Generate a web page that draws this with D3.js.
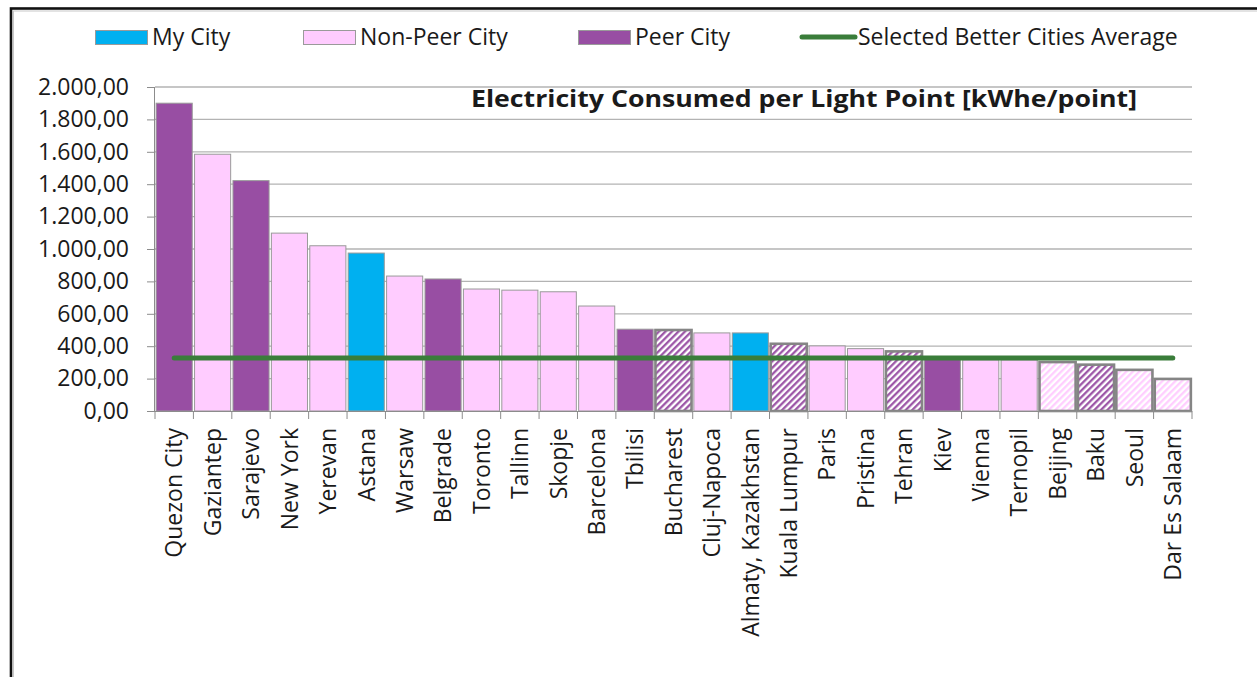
<!DOCTYPE html>
<head>
<meta charset="utf-8">
<style>
body { margin: 0; background: #fff; }
text { font-family: "Open Sans", sans-serif; fill: #1a1a1a; }
.axis path, .axis line { stroke: #8c8c8c; }
.grid line { stroke: #b3b3b3; stroke-width: 1.3px; }
</style>
</head>
<body>
<script src="https://d3js.org/d3.v7.min.js"></script>
<script>
var cities = ["Quezon City", "Gaziantep", "Sarajevo", "New York", "Yerevan", "Astana", "Warsaw",
  "Belgrade", "Toronto", "Tallinn", "Skopje", "Barcelona", "Tbilisi", "Bucharest", "Cluj-Napoca",
  "Almaty, Kazakhstan", "Kuala Lumpur", "Paris", "Pristina", "Tehran", "Kiev", "Vienna", "Ternopil",
  "Beijing", "Baku", "Seoul", "Dar Es Salaam"];
var values = [1900, 1585, 1422, 1098, 1020, 975, 833, 815, 753, 746, 736, 648, 505, 500, 482,
  482, 415, 402, 385, 368, 332, 316, 316, 302, 286, 254, 198];
// M = my city, N = non-peer, P = peer, PH / NH = hatched peer / non-peer
var kinds = ["P", "N", "P", "N", "N", "M", "N", "P", "N", "N", "N", "N", "P", "PH", "N",
  "M", "PH", "N", "N", "PH", "P", "N", "N", "NH", "PH", "NH", "NH"];
var betterAverage = 327;
var yTicks = [0, 200, 400, 600, 800, 1000, 1200, 1400, 1600, 1800, 2000];
var legendItems = ["My City", "Non-Peer City", "Peer City", "Selected Better Cities Average"];

var W = 1257, H = 677;
var plotL = 155, plotR = 1192, plotT = 87, plotB = 411;

var svg = d3.select("body").append("svg")
  .attr("width", W)
  .attr("height", H);

var defs = svg.append("defs");
function hatch(id, color) {
  var p = defs.append("pattern")
    .attr("id", id)
    .attr("patternUnits", "userSpaceOnUse")
    .attr("width", 4.6).attr("height", 4.6)
    .attr("patternTransform", "rotate(45)");
  p.append("rect").attr("width", 4.6).attr("height", 4.6).attr("fill", "#fff");
  p.append("line").attr("x1", 1.2).attr("y1", 0).attr("x2", 1.2).attr("y2", 4.6)
    .attr("stroke", color).attr("stroke-width", 2.2);
}
hatch("hatchPeer", "#984ea3");
hatch("hatchNon", "#ffccff");

var fills = { M: "#00b0f0", N: "#ffccff", P: "#984ea3", PH: "url(#hatchPeer)", NH: "url(#hatchNon)" };

// frame
svg.append("rect")
  .attr("x", 11).attr("y", 8.5)
  .attr("width", W + 20).attr("height", H + 20)
  .attr("fill", "none").attr("stroke", "#111").attr("stroke-width", 2.6);
svg.append("rect")
  .attr("x", 13.5).attr("y", 11)
  .attr("width", W + 20).attr("height", H + 20)
  .attr("fill", "none").attr("stroke", "#c8c8c8").attr("stroke-width", 1);

var x = d3.scaleBand()
  .domain(cities)
  .range([plotL, plotR])
  .paddingInner(0.06)
  .paddingOuter(0.03);

var y = d3.scaleLinear()
  .domain([0, 2000])
  .range([plotB, plotT]);

// grid
svg.append("g").attr("class", "grid")
  .selectAll("line")
  .data(yTicks.slice(1))
  .enter().append("line")
  .attr("x1", plotL).attr("x2", plotR)
  .attr("y1", function(d) { return y(d); })
  .attr("y2", function(d) { return y(d); });

var fmt = function(d) {
  var s = d3.format(",.2f")(d);
  return s.replace(/,/g, "#").replace(".", ",").replace(/#/g, ".");
};

var yAxis = svg.append("g")
  .attr("class", "axis")
  .attr("transform", "translate(" + plotL + ",0)")
  .call(d3.axisLeft(y).tickValues(yTicks).tickSize(8).tickPadding(18).tickFormat(fmt));
yAxis.selectAll("text").style("font-size", "23px").attr("fill", "#1a1a1a");
yAxis.select(".domain").attr("d", "M-0.5," + plotB + "V" + plotT);

// bars
svg.append("g")
  .selectAll("rect")
  .data(cities)
  .enter().append("rect")
  .attr("x", function(d) { return x(d); })
  .attr("y", function(d, i) { return y(values[i]); })
  .attr("width", x.bandwidth())
  .attr("height", function(d, i) { return plotB - y(values[i]); })
  .attr("fill", function(d, i) { return fills[kinds[i]]; })
  .attr("stroke", function(d, i) { return kinds[i].length > 1 ? "#858585" : "#9a9a9a"; })
  .attr("stroke-width", function(d, i) { return kinds[i].length > 1 ? 2.6 : 1; });

// x axis with ticks at category boundaries
var xa = svg.append("g").attr("class", "axis");
xa.append("line")
  .attr("x1", plotL).attr("x2", plotR)
  .attr("y1", plotB + 0.5).attr("y2", plotB + 0.5);
xa.selectAll(".tk")
  .data(d3.range(cities.length + 1))
  .enter().append("line")
  .attr("x1", function(i) { return plotL + i * (plotR - plotL) / cities.length; })
  .attr("x2", function(i) { return plotL + i * (plotR - plotL) / cities.length; })
  .attr("y1", plotB).attr("y2", plotB + 8);

svg.append("g")
  .selectAll("text")
  .data(cities)
  .enter().append("text")
  .attr("transform", function(d) {
    return "translate(" + (x(d) + x.bandwidth() / 2) + "," + (plotB + 17) + ") rotate(-90)";
  })
  .attr("text-anchor", "end")
  .attr("dy", "0.36em")
  .style("font-size", "23px")
  .text(function(d) { return d; });

// average line
var line = d3.line()
  .x(function(d) { return x(d) + x.bandwidth() / 2; })
  .y(function() { return y(betterAverage); });
svg.append("path")
  .datum(cities)
  .attr("d", line)
  .attr("fill", "none")
  .attr("stroke", "#3a7d3a")
  .attr("stroke-width", 5)
  .attr("stroke-linecap", "round");

// title
svg.append("text")
  .attr("x", 471).attr("y", 107)
  .attr("textLength", 666)
  .attr("lengthAdjust", "spacingAndGlyphs")
  .style("font-size", "24px")
  .style("font-weight", "bold")
  .attr("fill", "#000")
  .text("Electricity Consumed per Light Point [kWhe/point]");

// legend
var legX = [95, 303, 578, 800];
var lg = svg.append("g");
legendItems.forEach(function(name, i) {
  var g = lg.append("g").attr("transform", "translate(" + legX[i] + ",0)");
  if (i < 3) {
    g.append("rect")
      .attr("x", 0.5).attr("y", 30.5)
      .attr("width", 52).attr("height", 14)
      .attr("fill", fills[["M", "N", "P"][i]])
      .attr("stroke", "#9a9a9a");
    g.append("text").attr("x", 57).attr("y", 45).style("font-size", "23px").text(name);
  } else {
    g.append("line")
      .attr("x1", 2).attr("x2", 55).attr("y1", 37).attr("y2", 37)
      .attr("stroke", "#3a7d3a").attr("stroke-width", 5).attr("stroke-linecap", "round");
    g.append("text").attr("x", 58).attr("y", 45).style("font-size", "23px").text(name);
  }
});
</script>
</body>
